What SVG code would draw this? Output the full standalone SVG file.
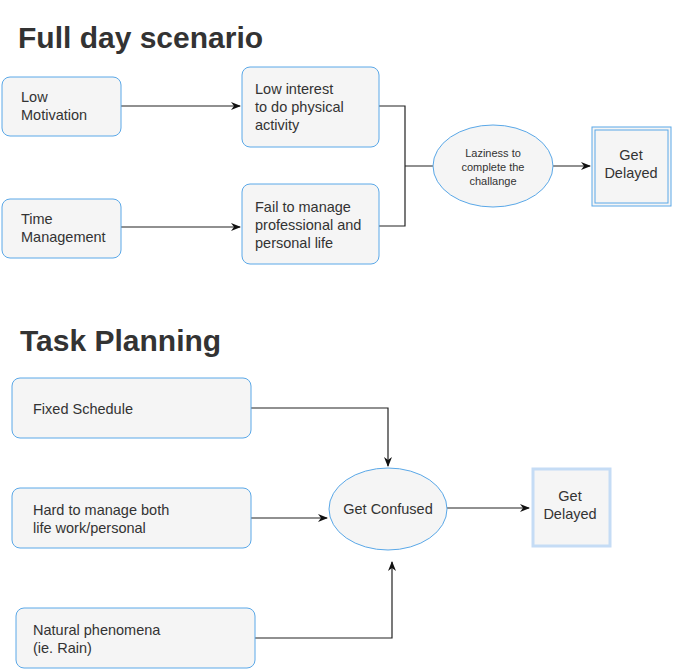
<svg xmlns="http://www.w3.org/2000/svg" width="685" height="669" viewBox="0 0 685 669">
<style>
text{font-family:"Liberation Sans",Arial,sans-serif;fill:#333}
.t{font-size:14.5px}
.h{font-size:30px;font-weight:bold;fill:#333}
.b{fill:#f5f5f5;stroke:#5aa8e8;stroke-width:1}
.c{fill:none;stroke:#222;stroke-width:1.2}
</style>
<defs><marker id="a" markerWidth="10" markerHeight="8" refX="9" refY="4" orient="auto" markerUnits="userSpaceOnUse"><path d="M0,0 L10,4 L0,8 L3,4 Z" fill="#111"/></marker></defs>
<rect width="685" height="669" fill="#fff"/>
<text class="h" x="18" y="48">Full day scenario</text>
<text class="h" x="20" y="351">Task Planning</text>
<g id="connectors">
<path class="c" d="M121,106 H240" marker-end="url(#a)"/>
<path class="c" d="M121,227 H240" marker-end="url(#a)"/>
<path class="c" d="M379,106 H405 V226 H379 M405,166 H434"/>
<path class="c" d="M553,166 H590" marker-end="url(#a)"/>
<path class="c" d="M251,408 H388 V466" marker-end="url(#a)"/>
<path class="c" d="M251,518 H327" marker-end="url(#a)"/>
<path class="c" d="M255,638 H392 V562" marker-end="url(#a)"/>
<path class="c" d="M447,508 H529" marker-end="url(#a)" stroke="#555"/>
</g>
<g id="lowmot"><rect class="b" x="2" y="77" width="119" height="59" rx="8"/><text class="t" x="21" y="102">Low</text><text class="t" x="21" y="120">Motivation</text></g>
<g id="timemgmt"><rect class="b" x="2" y="199" width="119" height="59" rx="8"/><text class="t" x="21" y="224">Time</text><text class="t" x="21" y="242">Management</text></g>
<g id="lowint"><rect class="b" x="242" y="67" width="137" height="80" rx="8"/><text class="t" x="255" y="94">Low interest</text><text class="t" x="255" y="112">to do physical</text><text class="t" x="255" y="130">activity</text></g>
<g id="fail"><rect class="b" x="242" y="184" width="137" height="80" rx="8"/><text class="t" x="255" y="212">Fail to manage</text><text class="t" x="255" y="230">professional and</text><text class="t" x="255" y="248">personal life</text></g>
<g id="laziness"><ellipse class="b" cx="493" cy="166" rx="60" ry="41"/><text x="493" y="157" font-size="11" text-anchor="middle">Laziness to</text><text x="493" y="171" font-size="11" text-anchor="middle">complete the</text><text x="493" y="185" font-size="11" text-anchor="middle">challange</text></g>
<g id="delayed1"><rect x="592" y="127" width="79" height="79" fill="#f5f5f5" stroke="#5aa8e8" stroke-width="1"/><rect x="595" y="130" width="73" height="73" fill="none" stroke="#5aa8e8" stroke-width="1"/><text class="t" x="631" y="160" text-anchor="middle">Get</text><text class="t" x="631" y="178" text-anchor="middle">Delayed</text></g>
<g id="fixed"><rect class="b" x="12" y="378" width="239" height="60" rx="8"/><text class="t" x="33" y="414">Fixed Schedule</text></g>
<g id="hard"><rect class="b" x="12" y="488" width="239" height="60" rx="8"/><text class="t" x="33" y="515">Hard to manage both</text><text class="t" x="33" y="533">life work/personal</text></g>
<g id="natural"><rect class="b" x="16" y="608" width="239" height="60" rx="8"/><text class="t" x="33" y="635">Natural phenomena</text><text class="t" x="33" y="653">(ie. Rain)</text></g>
<g id="confused"><ellipse class="b" cx="388" cy="509" rx="59" ry="41"/><text class="t" x="388" y="514" text-anchor="middle">Get Confused</text></g>
<g id="delayed2"><rect x="533" y="469" width="77" height="77" fill="#f5f5f5" stroke="#c5dcf5" stroke-width="3"/><text class="t" x="570" y="501" text-anchor="middle">Get</text><text class="t" x="570" y="519" text-anchor="middle">Delayed</text></g>
</svg>
